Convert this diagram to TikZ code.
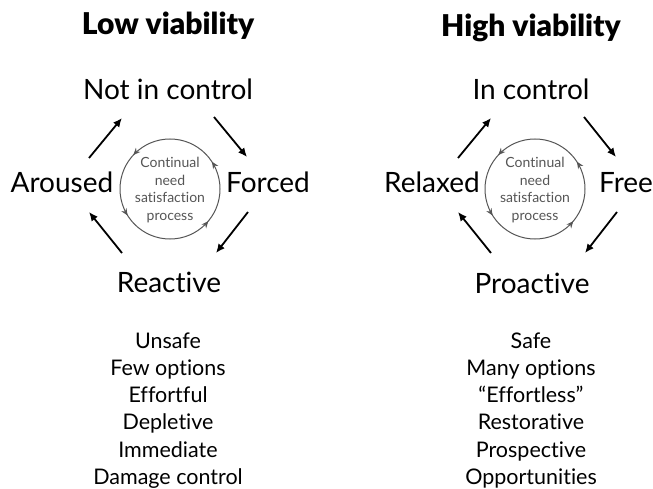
\documentclass[tikz,border=0pt]{standalone}
\usepackage{fontspec}
\setmainfont{Lato}[Ligatures=NoCommon]
\newfontfamily\titlefont{Lato Black}
\usetikzlibrary{arrows.meta,decorations.markings}
\definecolor{cycgray}{HTML}{555555}
\begin{document}
\begin{tikzpicture}[x=1pt,y=-1pt,
  title/.style={font=\fontsize{30}{34}\titlefont, anchor=base, inner sep=0pt},
  state/.style={font=\fontsize{28}{32}\selectfont, anchor=base, inner sep=0pt},
  item/.style={font=\fontsize{21.5}{26}\selectfont, anchor=base, inner sep=0pt},
  flow/.style={line width=1.8pt, -{Latex[length=9pt,width=8pt]}},
  cycle/.style={draw=cycgray, line width=1pt,
    decoration={markings,
      mark=at position 0.111 with {\arrowreversed{Stealth[length=7pt,width=6pt]}},
      mark=at position 0.411 with {\arrowreversed{Stealth[length=7pt,width=6pt]}},
      mark=at position 0.619 with {\arrowreversed{Stealth[length=7pt,width=6pt]}},
      mark=at position 0.908 with {\arrowreversed{Stealth[length=7pt,width=6pt]}}},
    postaction={decorate}},
  cyctext/.style={font=\fontsize{14}{17.5}\selectfont, text=cycgray, align=center, inner sep=0pt}
]
\useasboundingbox (0,0) rectangle (653,489);

% ---------- Left: Low viability ----------
\node[title] (tl) at (168,35) {Low viability};
\node[state] (nic) at (168,100) {Not in control};
\node[state] (forced) at (268,193) {Forced};
\node[state] (aroused) at (62,193) {Aroused};
\node[state] (reactive) at (169,292) {Reactive};

\draw[cycle] (170,189) circle[radius=50];
\node[cyctext] (cl) at (170,190) {Continual\\need\\satisfaction\\process};

\coordinate (a1s) at (89,158);  \coordinate (a1e) at (122,118);
\coordinate (a2s) at (214,117); \coordinate (a2e) at (247,157);
\coordinate (a3s) at (248,212); \coordinate (a3e) at (216,253);
\coordinate (a4s) at (122,253); \coordinate (a4e) at (89,212);
\draw[flow] (a1s) -- (a1e);
\draw[flow] (a2s) -- (a2e);
\draw[flow] (a3s) -- (a3e);
\draw[flow] (a4s) -- (a4e);

\foreach \t [count=\i] in {Unsafe,Few options,Effortful,Depletive,Immediate,Damage control}
  \node[item] (l\i) at (168,{348+27.3*(\i-1)}) {\t};

% ---------- Right: High viability ----------
\node[title] (tr) at (531,37) {High viability};
\node[state] (ic) at (531,100) {In control};
\node[state] (free) at (626,193) {Free};
\node[state] (relaxed) at (432,193) {Relaxed};
\node[state] (proactive) at (532,293) {Proactive};

\draw[cycle] (535,189) circle[radius=50];
\node[cyctext] (cr) at (535,190) {Continual\\need\\satisfaction\\process};

\coordinate (b1s) at (458,158); \coordinate (b1e) at (491,118);
\coordinate (b2s) at (584,117); \coordinate (b2e) at (616,157);
\coordinate (b3s) at (617,212); \coordinate (b3e) at (585,253);
\coordinate (b4s) at (491,253); \coordinate (b4e) at (458,212);
\draw[flow] (b1s) -- (b1e);
\draw[flow] (b2s) -- (b2e);
\draw[flow] (b3s) -- (b3e);
\draw[flow] (b4s) -- (b4e);

\foreach \t [count=\i] in {Safe,Many options,“Effortless”,Restorative,Prospective,Opportunities}
  \node[item] (r\i) at (531,{348+27.3*(\i-1)}) {\t};
\end{tikzpicture}
\end{document}
